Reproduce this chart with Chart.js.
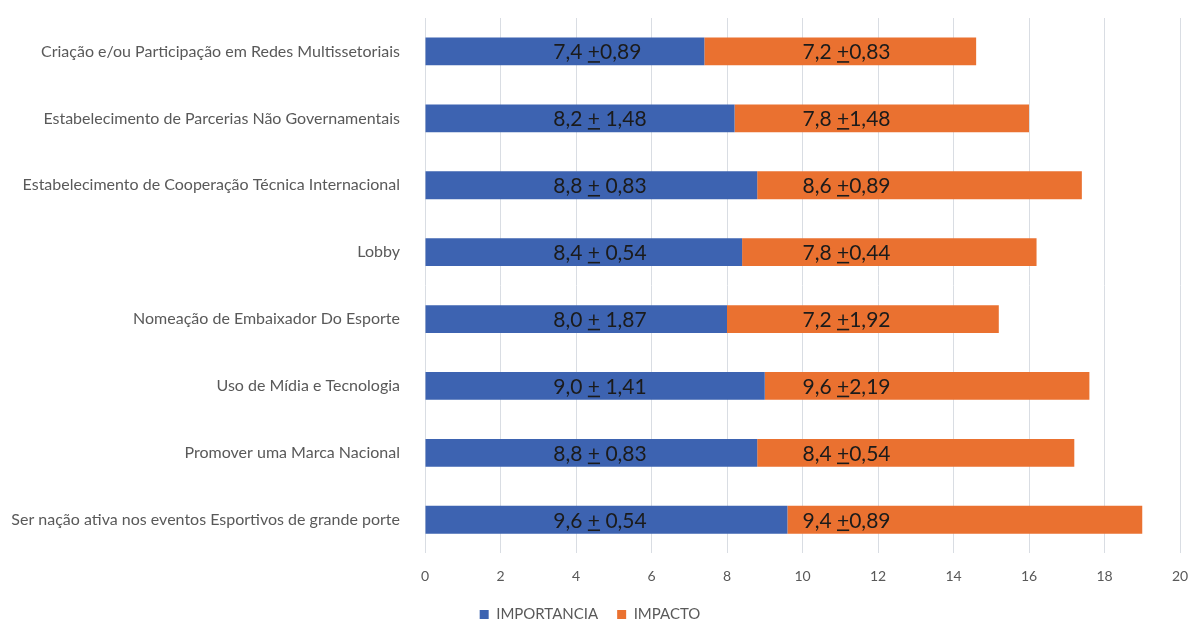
<!DOCTYPE html>
<html>
<head>
<meta charset="utf-8">
<script src="https://cdn.jsdelivr.net/npm/chart.js@4"></script>
<style>
  html, body { margin: 0; padding: 0; background: #fff; overflow: hidden; }
  canvas { display: block; }
</style>
</head>
<body>
<!-- a bit taller than the window so the legend sits near the bottom edge -->
<canvas id="strategies-chart" width="1190" height="632"></canvas>
<script>
// categories, top to bottom
const categories = [
  'Criação e/ou Participação em Redes Multissetoriais',
  'Estabelecimento de Parcerias Não Governamentais',
  'Estabelecimento de Cooperação Técnica Internacional',
  'Lobby',
  'Nomeação de Embaixador Do Esporte',
  'Uso de Mídia e Tecnologia',
  'Promover uma Marca Nacional',
  'Ser nação ativa nos eventos Esportivos de grande porte'
];

// bar lengths as drawn
const importancia = [7.4, 8.2, 8.8, 8.4, 8.0, 9.0, 8.8, 9.6];
const impacto = [7.2, 7.8, 8.6, 7.8, 7.2, 8.6, 8.4, 9.4];

// text printed on the bars, the '+' gets underlined (±)
const importanciaText = ['7,4 +0,89', '8,2 + 1,48', '8,8 + 0,83', '8,4 + 0,54', '8,0 + 1,87', '9,0 + 1,41', '8,8 + 0,83', '9,6 + 0,54'];
const impactoText = ['7,2 +0,83', '7,8 +1,48', '8,6 +0,89', '7,8 +0,44', '7,2 +1,92', '9,6 +2,19', '8,4 +0,54', '9,4 +0,89'];

const xTicks = [0, 2, 4, 6, 8, 10, 12, 14, 16, 18, 20];

Chart.defaults.font.family = 'Lato';
Chart.defaults.color = '#595959';

// text boxes sit at fixed spots along the x axis (like in the original)
const labelStart = [3.4, 10.0];

const barText = {
  id: 'barText',
  afterDatasetsDraw(chart) {
    const ctx = chart.ctx;
    const xs = chart.scales.x;
    const texts = [importanciaText, impactoText];
    ctx.save();
    ctx.font = '21px Lato';
    ctx.fillStyle = '#1b1b1b';
    ctx.strokeStyle = '#1b1b1b';
    ctx.textBaseline = 'middle';
    ctx.textAlign = 'left';
    chart.data.datasets.forEach((ds, di) => {
      const meta = chart.getDatasetMeta(di);
      meta.data.forEach((bar, i) => {
        const str = texts[di][i];
        const k = str.indexOf('+');
        const a = str.slice(0, k);
        const c = str.slice(k + 1);
        const wa = ctx.measureText(a).width;
        const wb = ctx.measureText('+').width;
        const x = xs.getPixelForValue(labelStart[di]);
        const y = bar.y + 1;
        ctx.fillText(a, x, y);
        ctx.fillText('+', x + wa, y);
        ctx.lineWidth = 1.6;
        ctx.beginPath();
        ctx.moveTo(x + wa, y + 9.5);
        ctx.lineTo(x + wa + wb, y + 9.5);
        ctx.stroke();
        ctx.fillText(c, x + wa + wb, y);
      });
    });
    ctx.restore();
  }
};

const data = {
  labels: categories,
  datasets: [
    {
      label: 'IMPORTANCIA',
      data: importancia,
      backgroundColor: '#3D63B1',
      barPercentage: 0.415,
      categoryPercentage: 1
    },
    {
      label: 'IMPACTO',
      data: impacto,
      backgroundColor: '#EA7130',
      barPercentage: 0.415,
      categoryPercentage: 1
    }
  ]
};

const config = {
  type: 'bar',
  data: data,
  plugins: [barText],
  options: {
    indexAxis: 'y',
    responsive: false,
    animation: false,
    layout: { padding: { top: 18, right: 10, bottom: 0, left: 0 } },
    scales: {
      x: {
        stacked: true,
        min: 0,
        max: 20,
        afterBuildTicks(scale) {
          scale.ticks = xTicks.map(v => ({ value: v }));
        },
        // the tick padding would otherwise be added to the right edge
        afterFit(scale) {
          scale.paddingLeft = 0;
          scale.paddingRight = 0;
          scale.height -= 12;
        },
        grid: { color: '#d9dde3', drawTicks: false },
        border: { display: false },
        ticks: { padding: 15, font: { size: 14 } }
      },
      y: {
        stacked: true,
        afterFit(scale) {
          scale.width = 425;
          scale.paddingTop = 0;
          scale.paddingBottom = 0;
        },
        grid: { display: false },
        border: { display: false },
        ticks: { padding: 17, font: { size: 16 } }
      }
    },
    plugins: {
      legend: {
        position: 'bottom',
        labels: {
          boxWidth: 9,
          boxHeight: 9,
          padding: 19,
          font: { size: 15 }
        }
      },
      tooltip: { enabled: false }
    }
  }
};

new Chart(document.getElementById('strategies-chart'), config);
</script>
</body>
</html>
